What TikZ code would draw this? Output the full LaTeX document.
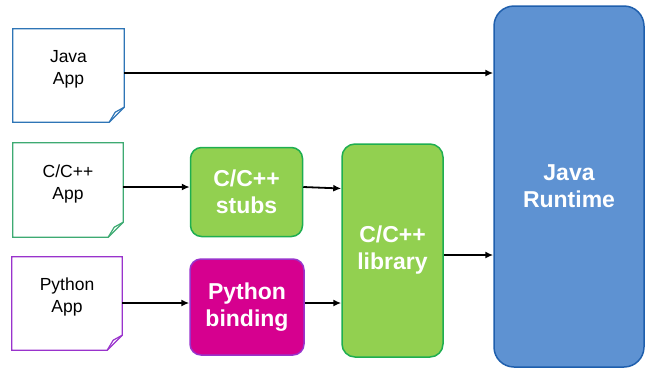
\documentclass[tikz,border=0pt]{standalone}
\usepackage{fontspec}
\setmainfont{Liberation Sans}
\usetikzlibrary{arrows.meta}
\definecolor{docblue}{HTML}{2E75B6}
\definecolor{docgreen}{HTML}{3DAA72}
\definecolor{docpurple}{HTML}{9933CC}
\definecolor{boxgreen}{HTML}{92D050}
\definecolor{boxgreenline}{HTML}{1EAE50}
\definecolor{boxmag}{HTML}{D6008F}
\definecolor{boxmagline}{HTML}{9933CC}
\definecolor{rtfill}{HTML}{5E92D2}
\definecolor{rtline}{HTML}{1F5FAD}
\tikzset{
  docnode/.style={draw=none, align=center, font=\fontsize{17.5}{22}\selectfont, text depth=16pt, inner sep=0pt},
  boldbox/.style={draw, line width=1.5pt, align=center, text=white, font=\bfseries\fontsize{23}{27}\selectfont, inner sep=0pt, rounded corners=11pt},
  conn/.style={line width=1.8pt, -{Latex[length=8pt,width=7pt]}},
}
\newcommand{\mydoc}[2]{%
  \draw[#2, line width=1.2pt, line join=miter]
    (#1.north west) -- (#1.north east) -- ([yshift=15pt]#1.south east)
    -- ([xshift=-15pt]#1.south east) -- (#1.south west) -- cycle;
  \draw[#2, line width=1.2pt, line join=round]
    ([yshift=15pt]#1.south east) -- ([xshift=-9pt,yshift=10pt]#1.south east)
    -- ([xshift=-15pt]#1.south east);
}
\begin{document}
\begin{tikzpicture}[x=1pt,y=-1pt]
\useasboundingbox (0,0) rectangle (645,368);
% documents
\node[docnode, minimum width=111pt, minimum height=93pt] (javaapp) at (68.5,75.5) {Java\\App};
\node[docnode, minimum width=110pt, minimum height=94pt] (ccapp) at (68,190) {C/C++\\App};
\node[docnode, minimum width=110pt, minimum height=93pt] (pyapp) at (67,303.5) {Python\\App};
\mydoc{javaapp}{docblue}
\mydoc{ccapp}{docgreen}
\mydoc{pyapp}{docpurple}
% boxes
\node[boldbox, fill=boxgreen, draw=boxgreenline, minimum width=112pt, minimum height=89pt] (stubs) at (246.5,192) {C/C++\\stubs};
\node[boldbox, fill=boxmag, draw=boxmagline, minimum width=114pt, minimum height=96pt] (binding) at (247,307) {Python\\binding};
\node[boldbox, fill=boxgreen, draw=boxgreenline, minimum width=101pt, minimum height=213pt, rounded corners=13pt] (library) at (392.5,250.5) {C/C++\\library};
\node[boldbox, fill=rtfill, draw=rtline, minimum width=150pt, minimum height=361pt, rounded corners=20pt] (runtime) at (569,186.5) {Java\\Runtime};
% connectors
\draw[conn] (javaapp.east |- 0,73) -- (runtime.west |- 0,73);
\draw[conn] (ccapp.east |- 0,187) -- (stubs.west |- 0,187);
\draw[conn] (stubs.east |- 0,187) -- (library.west |- 0,188.5);
\draw[conn] (pyapp.east |- 0,303) -- (binding.west |- 0,303);
\draw[conn] (binding.east |- 0,303) -- (library.west |- 0,303);
\draw[conn] (library.east |- 0,255) -- (runtime.west |- 0,255);
\end{tikzpicture}
\end{document}
